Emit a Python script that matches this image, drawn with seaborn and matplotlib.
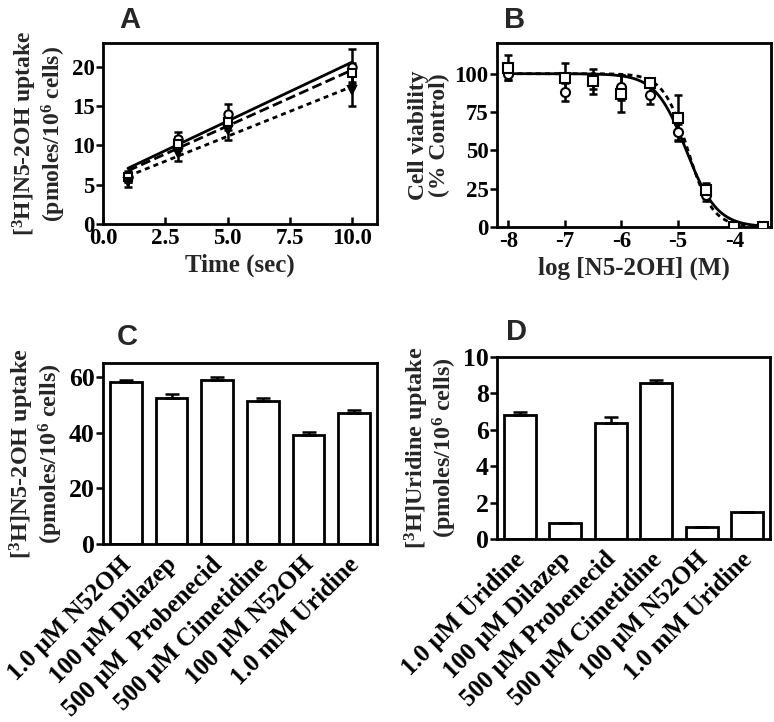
import numpy as np
import matplotlib
matplotlib.use("Agg")
import matplotlib.pyplot as plt
import seaborn as sns

# ---- panel A: uptake vs time ----
time_s = [1, 3, 5, 10]
uptake_circle = [6.0, 10.8, 14.0, 20.0]
uptake_circle_err = [0.7, 0.9, 1.2, 2.2]
uptake_square = [6.0, 10.2, 13.0, 19.2]
uptake_square_err = [0.6, 0.8, 1.0, 1.2]
uptake_tri = [5.3, 9.0, 12.0, 17.0]
uptake_tri_err = [0.6, 1.0, 1.3, 2.0]

# ---- panel B: cell viability ----
log_conc = [-8, -7, -6.5, -6, -5.5, -5, -4.5, -4, -3.5]
viab_square = [104, 97, 95, 87, 94, 71, 24, 0, 0]
viab_square_err = [8, 10, 8, 12, 3, 15, 5, 0.5, 0.5]
viab_circle = [100, 88, 95, 91, 86, 62, 21, 0.5, 0.5]
viab_circle_err = [4, 6, 5, 8, 6, 5, 4, 0.5, 0.5]
# fitted sigmoid parameters (logIC50, hill slope)
fit_solid = (-4.85, 1.6)
fit_dotted = (-4.82, 2.0)

# ---- panel C: [3H]N5-2OH uptake with inhibitors ----
c_labels = ["1.0 \u03bcM N52OH", "100 \u03bcM Dilazep", "500 \u03bcM  Probenecid",
            "500 \u03bcM Cimetidine", "100 \u03bcM N52OH", "1.0 mM Uridine"]
c_values = [58.1, 52.3, 58.8, 51.3, 39.1, 47.1]
c_err = [0.9, 1.5, 1.3, 1.0, 1.3, 1.0]

# ---- panel D: [3H]uridine uptake with inhibitors ----
d_labels = ["1.0 \u03bcM Uridine", "100 \u03bcM Dilazep", "500 \u03bcM Probenecid",
            "500 \u03bcM Cimetidine", "100 \u03bcM N52OH", "1.0 mM Uridine"]
d_values = [6.83, 0.90, 6.40, 8.55, 0.64, 1.49]
d_err = [0.14, 0.0, 0.30, 0.17, 0.0, 0.0]

sns.set_theme(style="ticks")
plt.rcParams["font.family"] = ["Liberation Serif", "DejaVu Serif"]
plt.rcParams["font.weight"] = "bold"
plt.rcParams["axes.labelweight"] = "bold"
plt.rcParams["axes.unicode_minus"] = False
plt.rcParams["mathtext.fontset"] = "custom"
plt.rcParams["mathtext.rm"] = "Liberation Serif:bold"
plt.rcParams["mathtext.default"] = "rm"
plt.rcParams["axes.linewidth"] = 2.0

W, H = 774, 722
fig = plt.figure(figsize=(W / 100, H / 100), dpi=100)

DASHED = (0, (3.6, 1.6))
DOTTED = (0, (1.8, 1.5))


def add_ax(left, right, top, bottom):
    return fig.add_axes([left / W, 1 - bottom / H, (right - left) / W, (bottom - top) / H])


def style_ax(ax, tick_size, xdir="in"):
    ax.tick_params(axis="y", direction="out", length=5, width=1.8, labelsize=tick_size, pad=1, colors="black")
    ax.tick_params(axis="x", direction=xdir, length=5, width=1.8, labelsize=tick_size, pad=3, colors="black")
    for s in ax.spines.values():
        s.set_visible(True)
        s.set_color("black")
        s.set_linewidth(2.0)
    for lab in ax.get_xticklabels() + ax.get_yticklabels():
        lab.set_fontweight("bold")


def panel_letter(x, y, letter):
    fig.text(x / W, 1 - y / H, letter, family=["Liberation Sans", "DejaVu Sans"],
             fontweight="bold", fontsize=21, ha="center", va="center")


err_kw = dict(fmt="none", ecolor="black", elinewidth=1.8, capsize=3, capthick=1.8, zorder=3)

# ---------------- A ----------------
axA = add_ax(103, 377, 43, 224)
series_a = [
    (uptake_circle, uptake_circle_err, "o", "white", "-"),
    (uptake_square, uptake_square_err, "s", "white", DASHED),
    (uptake_tri, uptake_tri_err, "v", "black", DOTTED),
]
for y, e, m, fc, ls in series_a:
    sns.regplot(x=time_s, y=y, ax=axA, ci=None, scatter=False, truncate=True,
                line_kws=dict(color="black", lw=2, ls=ls))
    axA.errorbar(time_s, y, yerr=e, **err_kw)
    axA.plot(time_s, y, ls="none", marker=m, ms=6, mfc=fc, mec="black", mew=1.5, zorder=4)
axA.set_xlim(0, 11)
axA.set_ylim(0, 23)
axA.set_xticks([0, 2.5, 5, 7.5, 10])
axA.set_xticklabels(["0.0", "2.5", "5.0", "7.5", "10.0"])
axA.set_yticks([0, 5, 10, 15, 20])
axA.set_xlabel("Time (sec)", fontsize=18, labelpad=3)
axA.set_ylabel("[$^{3}$H]N5-2OH uptake\n(pmoles/10$^{6}$ cells)", fontsize=17, labelpad=3, linespacing=1.0)
style_ax(axA, 16.5)

# ---------------- B ----------------
axB = add_ax(497, 771, 43, 227)
grid = np.linspace(-8, -3.5, 300)
for (ic50, hill), ls in [(fit_solid, "-"), (fit_dotted, DOTTED)]:
    curve = 100 / (1 + 10 ** ((grid - ic50) * hill))
    sns.lineplot(x=grid, y=curve, ax=axB, color="black", lw=2, ls=ls)
axB.errorbar(log_conc, viab_square, yerr=viab_square_err, **err_kw)
axB.errorbar(log_conc, viab_circle, yerr=viab_circle_err, **err_kw)
axB.plot(log_conc, viab_circle, ls="none", marker="o", ms=6.5, mfc="white", mec="black", mew=1.5, zorder=4)
axB.plot(log_conc, viab_square, ls="none", marker="s", ms=6.5, mfc="white", mec="black", mew=1.5, zorder=5)
axB.set_xlim(-8.2, -3.35)
axB.set_ylim(0, 120)
axB.set_xticks([-8, -7, -6, -5, -4])
axB.set_yticks([0, 25, 50, 75, 100])
axB.set_xlabel("log [N5-2OH] (M)", fontsize=18, labelpad=3)
axB.set_ylabel("Cell viability\n(% Control)", fontsize=17, labelpad=3, linespacing=1.0)
style_ax(axB, 16.5)


def bar_panel(ax, labels, values, errs, ylim, yticks, ylabel):
    sns.barplot(x=labels, y=values, ax=ax, color="white", edgecolor="black",
                linewidth=2, width=0.7, saturation=1)
    ax.errorbar(range(len(values)), values, yerr=[[0] * len(errs), errs],
                fmt="none", ecolor="black", elinewidth=1.8, capsize=5, capthick=1.8, zorder=3)
    ax.set_xlim(-0.5, len(values) - 0.5)
    ax.set_ylim(*ylim)
    ax.set_yticks(yticks)
    ax.set_ylabel(ylabel, fontsize=17.5, labelpad=3, linespacing=1.0)
    style_ax(ax, 18.5)
    ax.tick_params(axis="x", length=0, pad=11)
    for lab in ax.get_xticklabels():
        lab.set_rotation(45)
        lab.set_ha("right")
        lab.set_va("center_baseline")
        lab.set_rotation_mode("anchor")
        lab.set_fontsize(18)


# ---------------- C ----------------
axC = add_ax(103, 377, 363, 544)
bar_panel(axC, c_labels, c_values, c_err, (0, 65), [0, 20, 40, 60],
          "[$^{3}$H]N5-2OH uptake\n(pmoles/10$^{6}$ cells)")

# ---------------- D ----------------
axD = add_ax(497, 770, 357, 539)
bar_panel(axD, d_labels, d_values, d_err, (0, 10), [0, 2, 4, 6, 8, 10],
          "[$^{3}$H]Uridine uptake\n(pmoles/10$^{6}$ cells)")

panel_letter(130, 20, "A")
panel_letter(515, 20, "B")
panel_letter(127, 337, "C")
panel_letter(517, 332, "D")

fig.savefig("out.png", dpi=100)
